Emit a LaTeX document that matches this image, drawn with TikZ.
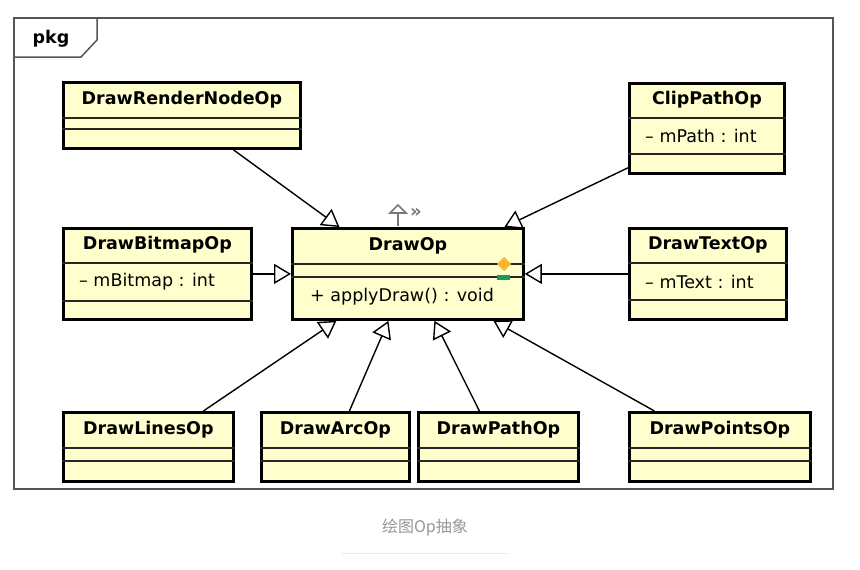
\documentclass[tikz,border=0pt]{standalone}
\usepackage{fontspec}
\setmainfont{DejaVu Sans}
\newfontfamily\cjkfont{Noto Sans CJK SC}
\usepackage{tikz}
\usetikzlibrary{arrows.meta}
\definecolor{umlfill}{RGB}{255,255,206}
\definecolor{umlframe}{RGB}{85,85,85}
\definecolor{umlorange}{RGB}{250,180,50}
\definecolor{umlgreen}{RGB}{30,150,90}
\definecolor{umlicon}{RGB}{120,120,120}
\definecolor{captiongray}{RGB}{150,150,150}

% #1 name, #2 west x, #3 north y, #4 width, #5 height,
% #6 title row, #7 attribute row, #8 class name, #9 attribute
\newcommand{\umlclass}[9]{%
  \node[classbox, minimum width=#4, minimum height=#5, anchor=north west] (#1) at (#2,#3) {};
  \draw[sepline] ([yshift=-#6]#1.north west) -- ([yshift=-#6]#1.north east);
  \draw[sepline] ([yshift={-#6-#7}]#1.north west) -- ([yshift={-#6-#7}]#1.north east);
  \node[classname] (#1-name) at ([yshift={-#6/2}]#1.north) {#8};
  \if\relax\detokenize{#9}\relax\else
    \node[classtext, anchor=west] (#1-attr) at ([xshift=17, yshift={-#6-#7/2}]#1.north west) {#9};
  \fi
}

\begin{document}
\begin{tikzpicture}[x=1pt, y=-1pt,
    classbox/.style={draw=black, fill=umlfill, line width=2.8pt, inner sep=0pt},
    sepline/.style={line width=1.5pt, draw=black!85},
    classname/.style={font=\fontsize{17.5}{21}\selectfont\bfseries, inner sep=0pt},
    classtext/.style={font=\fontsize{17.5}{21}\selectfont, inner sep=0pt},
    extends/.style={line width=1.4pt, -{Triangle[open, length=17pt, width=20pt]}}]
  \useasboundingbox (0,0) rectangle (860,570);

  % package frame
  \draw[umlframe, line width=1.5pt] (14,18) rectangle (833,489);
  \draw[umlframe, line width=1.5pt] (14,57) -- (81,57) -- (97,40) -- (97,18);
  \node[classname] (pkg) at (51,39) {pkg};

  % classes
  \umlclass{render}{62}{81}{237}{66}{37}{11}{DrawRenderNodeOp}{}
  \umlclass{clip}{628}{82}{155}{90}{36}{36}{ClipPathOp}{– mPath : int}
  \umlclass{drawop}{291}{227}{231}{91}{37}{13}{DrawOp}{}
  \umlclass{bitmap}{62}{227}{188}{91}{36}{38}{DrawBitmapOp}{– mBitmap : int}
  \umlclass{text}{628}{227}{157}{91}{36}{37}{DrawTextOp}{– mText : int}
  \umlclass{lines}{62}{411}{170}{69}{37}{13}{DrawLinesOp}{}
  \umlclass{arc}{260}{411}{148}{69}{37}{13}{DrawArcOp}{}
  \umlclass{path}{417}{411}{160}{69}{37}{13}{DrawPathOp}{}
  \umlclass{points}{628}{411}{181}{69}{37}{13}{DrawPointsOp}{}
  \node[classtext, anchor=west] (drawop-op) at (310,297) {+ applyDraw() : void};

  % markers on DrawOp
  \fill[umlorange] (504,257) -- (511,264) -- (504,271) -- (497,264) -- cycle;
  \fill[umlgreen] (497,275) rectangle (510,280);
  \draw[umlicon, line width=1.8pt] (398,226) -- (398,213);
  \draw[umlicon, line width=1.6pt, line join=miter] (390,213) -- (406,213) -- (398,205) -- cycle;
  \node[font=\fontsize{18}{20}\selectfont\bfseries, text=umlicon, inner sep=0pt] (stereo) at (416,213) {»};

  % generalizations
  \draw[extends] ([xshift=51.5]render.south) -- ([xshift=-68.5]drawop.north);
  \draw[extends] ([yshift=7]clip.south west) -- ([xshift=96.5]drawop.north);
  \draw[extends] (bitmap.east) -- (drawop.west);
  \draw[extends] (text.west) -- (drawop.east);
  \draw[extends] ([xshift=55]lines.north) -- ([xshift=-71.5]drawop.south);
  \draw[extends] ([xshift=14]arc.north) -- ([xshift=-19.5]drawop.south);
  \draw[extends] ([xshift=-19]path.north) -- ([xshift=26.5]drawop.south);
  \draw[extends] ([xshift=-65.5]points.north) -- ([xshift=85.5]drawop.south);

  % caption
  \node[font=\cjkfont\fontsize{16}{19}\selectfont, text=captiongray, inner sep=0pt] (caption) at (425,528) {绘图Op抽象};
  \draw[black!8, line width=1pt] (342,553) -- (508,553);
\end{tikzpicture}
\end{document}
